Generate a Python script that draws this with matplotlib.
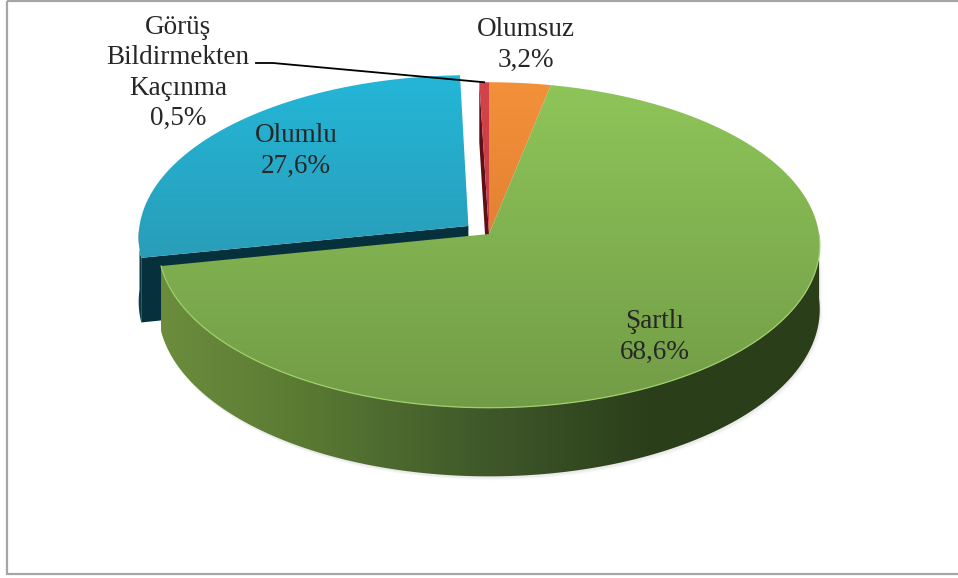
import numpy as np
import matplotlib
matplotlib.use('Agg')
from matplotlib import pyplot as plt
from matplotlib.patches import Polygon, Rectangle
from matplotlib.colors import LinearSegmentedColormap

# data (clockwise from 12 o'clock)
labels = ['Olumsuz', 'Şartlı', 'Olumlu', 'Görüş\nBildirmekten\nKaçınma']
values = [3.2, 68.6, 27.6, 0.5]
pct_text = ['3,2%', '68,6%', '27,6%', '0,5%']
explode = [0.0, 0.0, 0.08, 0.0]

top_colors = [('#f4923b', '#d06f2a'), ('#8fc75a', '#729b46'),
              ('#24b7d8', '#2c88a0'), ('#d4444c', '#b8333a')]
wall_colors = [['#b05a1c', '#8a4515'], ['#6f913f', '#5a7a33', '#40592a', '#2a3e1a', '#2b3f1b'],
               ['#0d3d4b', '#08323f'], ['#7a1a20', '#5a0d14']]
side_colors = ['#8a4515', '#2b3f1b', '#06303c', '#5e0f17']

label_pos = [(526, 45), (655, 337), (296, 151), (178, 73)]

# projection of the tilted disc (pixel coordinates, y down)
CX, CY = 489, 234
F, FS, C, H = 330, 162, 0.0675, 64


def proj(x, y, z=0.0):
    d = 1 + C * np.asarray(y)
    return CX + F * np.asarray(x) / d, CY - (FS * np.asarray(y) + H * z) / d


def rim(t, off, z=0.0):
    return proj(np.cos(t) + off[0], np.sin(t) + off[1], z)


def grad_fill(ax, xy, colors, extent, horizontal, z):
    patch = Polygon(xy, closed=True, facecolor='none', edgecolor='none', zorder=z)
    ax.add_patch(patch)
    cmap = LinearSegmentedColormap.from_list('g', colors)
    g = np.linspace(0, 1, 256)
    arr = g[None, :] if horizontal else g[:, None]
    im = ax.imshow(arr, cmap=cmap, extent=extent, aspect='auto',
                   interpolation='bilinear', origin='upper', zorder=z)
    im.set_clip_path(patch)


def front_runs(t):
    front = np.sin(t) <= 0.0
    runs, cur = [], []
    for tt, f in zip(t, front):
        if f:
            cur.append(tt)
        elif cur:
            runs.append(np.array(cur))
            cur = []
    if cur:
        runs.append(np.array(cur))
    return [r for r in runs if len(r) > 1]


frac = np.array(values) / sum(values)
ends = np.radians(90 - 360 * np.cumsum(frac))
starts = ends + np.radians(360 * frac)
mids = (starts + ends) / 2

fig = plt.figure(figsize=(9.58, 5.78), dpi=100)
ax = fig.add_axes([0, 0, 1, 1])
ax.axis('off')

x_ext = (CX - F - 30, CX + F + 10)


def draw_slice(i, z):
    off = (explode[i] * np.cos(mids[i]), explode[i] * np.sin(mids[i]))
    t = np.linspace(ends[i], starts[i], 400)
    # outer wall
    for run in front_runs(t):
        tx, ty = rim(run, off, 0)
        bx, by = rim(run, off, -1)
        xy = np.column_stack([np.r_[tx, bx[::-1]], np.r_[ty, by[::-1]]])
        # soft shadow under the wall
        for k, a in enumerate([0.08, 0.05, 0.03]):
            sh = np.column_stack([np.r_[tx, bx[::-1]] + 1 + k, np.r_[ty, by[::-1]] + 2 + k])
            ax.add_patch(Polygon(sh, closed=True, facecolor='#808080', alpha=a,
                                 edgecolor='none', zorder=z - 0.5))
        grad_fill(ax, xy, wall_colors[i], (x_ext[0], x_ext[1], 500, 200), True, z)
    # radial face turned toward the viewer
    tt = starts[i] if (explode[i] > 0 or i == 3) else None
    if tt is not None:
        c0 = proj(off[0], off[1], 0)
        c1 = proj(off[0], off[1], -1)
        r0 = rim(tt, off, 0)
        r1 = rim(tt, off, -1)
        ax.add_patch(Polygon([c0, r0, r1, c1], closed=True, facecolor=side_colors[i],
                             edgecolor='none', zorder=z + 0.1))
    # top face
    tx, ty = rim(t, off, 0)
    cx, cy = proj(off[0], off[1], 0)
    xy = np.column_stack([np.r_[cx, tx], np.r_[cy, ty]])
    grad_fill(ax, xy, top_colors[i], (x_ext[0], x_ext[1], 410, 70), False, z + 0.2)
    if i == 1:
        fr = front_runs(t)[0]
        lx, ly = rim(fr, off, 0)
        ax.plot(lx, ly, color='#9fd06c', lw=0.9, zorder=z + 0.3)


for z, i in zip([2, 3, 4, 5], [2, 3, 0, 1]):
    draw_slice(i, z)

# labels
for i in range(len(values)):
    ax.text(label_pos[i][0], label_pos[i][1], labels[i] + '\n' + pct_text[i],
            ha='center', va='center', multialignment='center', fontsize=19.5,
            family='Liberation Serif', color='#262626', linespacing=1.27, zorder=10)

# leader line for the small slice
ex, ey = rim(mids[3], (0, 0), 0)
ax.plot([256, 273, ex], [63, 63, ey], color='black', lw=1.3, zorder=9)

# frame
ax.add_patch(Rectangle((7.5, 1), 960, 573, facecolor='none', edgecolor='#a6a6a6',
                       lw=1.6, zorder=11, clip_on=False))

ax.set_xlim(0, 958)
ax.set_ylim(578, 0)
fig.savefig('out.png', dpi=100)
